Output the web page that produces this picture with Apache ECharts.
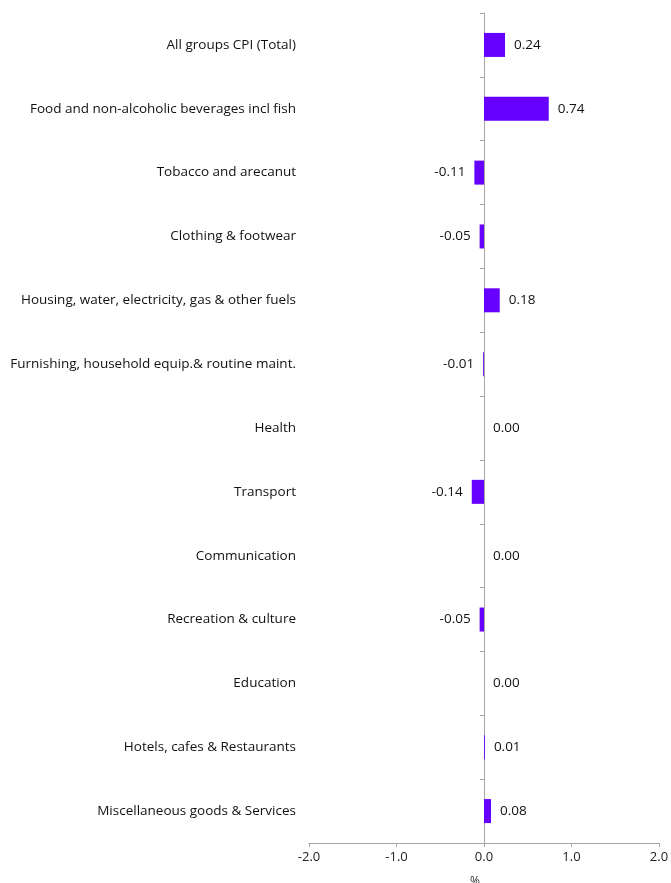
<!DOCTYPE html>
<html>
<head>
<meta charset="utf-8">
<script src="https://cdn.jsdelivr.net/npm/echarts@6/dist/echarts.min.js"></script>
<style>
html,body{margin:0;padding:0;background:#fff;}
#chart{width:671px;height:883px;}
</style>
</head>
<body>
<div id="chart"></div>
<script>
const categories = [
  "All groups CPI (Total)",
  "Food and non-alcoholic beverages incl fish",
  "Tobacco and arecanut",
  "Clothing & footwear",
  "Housing, water, electricity, gas & other fuels",
  "Furnishing, household equip.& routine maint.",
  "Health",
  "Transport",
  "Communication",
  "Recreation & culture",
  "Education",
  "Hotels, cafes & Restaurants",
  "Miscellaneous goods & Services"
];
const values = [0.24, 0.74, -0.11, -0.05, 0.18, -0.01, 0.00, -0.14, 0.00, -0.05, 0.00, 0.01, 0.08];
const xTicks = { min: -2, max: 2, interval: 1 };

const FONT = "Open Sans";
const chart = echarts.init(document.getElementById('chart'));
chart.setOption({
  animation: false,
  grid: { left: 309, right: 12, top: 13, bottom: 40, containLabel: false, outerBoundsMode: 'none' },
  xAxis: {
    type: 'value',
    min: xTicks.min, max: xTicks.max, interval: xTicks.interval,
    name: '%', nameLocation: 'middle', nameGap: 33,
    nameTextStyle: { fontFamily: FONT, fontSize: 12, color: '#333', padding: [0, 18, 0, 0] },
    axisLine: { show: true, onZero: false, lineStyle: { color: '#a6a6a6', width: 1 } },
    axisTick: { show: true, length: 4, lineStyle: { color: '#a6a6a6' } },
    axisLabel: { fontFamily: FONT, fontSize: 13, color: '#222', margin: 8,
      formatter: v => v.toFixed(1) },
    splitLine: { show: false }
  },
  yAxis: [
    {
      type: 'category', data: categories, inverse: true, position: 'left',
      axisLine: { show: false, onZero: false }, axisTick: { show: false },
      axisLabel: { fontFamily: FONT, fontSize: 13.5, color: '#111', margin: 13 }
    },
    {
      type: 'category', data: categories, inverse: true, position: 'left',
      axisLine: { show: true, onZero: true, lineStyle: { color: '#a6a6a6', width: 1 } },
      axisTick: { show: true, length: 4, inside: false, lineStyle: { color: '#a6a6a6' } },
      axisLabel: { show: false }
    }
  ],
  series: [{
    type: 'bar',
    yAxisIndex: 0,
    barWidth: 24,
    itemStyle: { color: '#6600ff' },
    data: values.map(v => ({
      value: v,
      label: { position: v < 0 ? 'left' : 'right' }
    })),
    label: {
      show: true, distance: 9,
      fontFamily: FONT, fontSize: 13.5, color: '#111',
      formatter: p => p.value.toFixed(2)
    }
  }]
});
</script>
</body>
</html>
